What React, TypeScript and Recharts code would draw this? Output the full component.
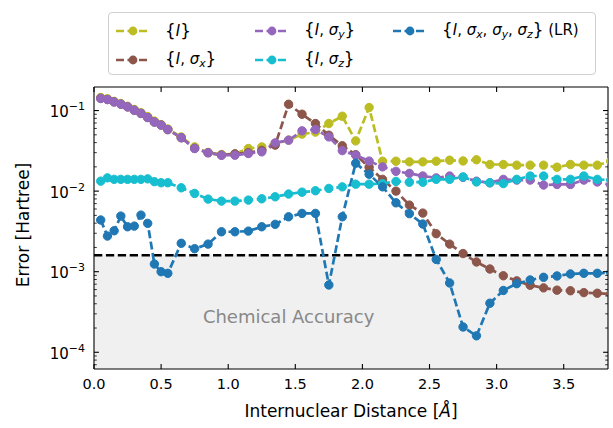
import React from 'react';
import {
  ComposedChart,
  Line,
  XAxis,
  YAxis,
  ReferenceArea,
  ReferenceLine,
  ReferenceDot,
} from 'recharts';

// ---------- data ----------
const distances = [
  0.05, 0.1, 0.15, 0.2, 0.25, 0.3, 0.35, 0.4, 0.45, 0.5, 0.55, 0.65, 0.75, 0.85, 0.95,
  1.05, 1.15, 1.25, 1.35, 1.45, 1.55, 1.65, 1.75, 1.85, 1.95, 2.05, 2.15, 2.25, 2.35,
  2.45, 2.55, 2.65, 2.75, 2.85, 2.95, 3.05, 3.15, 3.25, 3.35, 3.45, 3.55, 3.65, 3.75, 3.85,
];

const errI = [
  0.145, 0.14, 0.13, 0.122, 0.113, 0.103, 0.094, 0.084, 0.074, 0.067, 0.059, 0.047, 0.0354,
  0.0302, 0.0285, 0.029, 0.0338, 0.0354, 0.039, 0.043, 0.051, 0.054, 0.069, 0.085, 0.042,
  0.109, 0.0235, 0.0235, 0.0231, 0.0231, 0.0235, 0.0242, 0.0237, 0.0245, 0.0214, 0.0214,
  0.021, 0.021, 0.021, 0.0198, 0.0214, 0.021, 0.021, 0.0235,
];

const errIx = [
  0.142, 0.137, 0.128, 0.12, 0.111, 0.101, 0.092, 0.082, 0.072, 0.066, 0.058, 0.046, 0.034,
  0.03, 0.028, 0.029, 0.03, 0.032, 0.0372, 0.1197, 0.09, 0.069, 0.0494, 0.0366, 0.0283,
  0.0198, 0.014, 0.01, 0.00671, 0.00534, 0.00296, 0.0022, 0.00168, 0.00132, 0.00108,
  0.00089, 0.00077, 0.00068, 0.00063, 0.00059, 0.00058, 0.00055, 0.00054, 0.00053,
];

const errIy = [
  0.141, 0.137, 0.128, 0.12, 0.111, 0.101, 0.092, 0.082, 0.072, 0.066, 0.058, 0.046, 0.0338,
  0.0299, 0.0279, 0.0279, 0.0293, 0.0307, 0.0397, 0.0429, 0.056, 0.0582, 0.0471, 0.0318,
  0.0279, 0.0236, 0.02, 0.0176, 0.0166, 0.0154, 0.0146, 0.0154, 0.0148, 0.0133, 0.0127,
  0.014, 0.0137, 0.0137, 0.0119, 0.0121, 0.0121, 0.0137, 0.013, 0.0119,
];

const errIz = [
  0.0133, 0.0146, 0.014, 0.014, 0.014, 0.014, 0.014, 0.0142, 0.0131, 0.0127, 0.0127, 0.011,
  0.00936, 0.00796, 0.00752, 0.00752, 0.00774, 0.00803, 0.0085, 0.0092, 0.0097, 0.0101,
  0.0108, 0.0113, 0.0122, 0.0122, 0.0124, 0.0132, 0.0129, 0.0129, 0.014, 0.014, 0.015,
  0.013, 0.0127, 0.0124, 0.014, 0.0154, 0.0154, 0.014, 0.014, 0.0154, 0.014, 0.0137,
];

const errLR = [
  0.00438, 0.00277, 0.00322, 0.0049, 0.00361, 0.00368, 0.00504, 0.00398, 0.001245, 0.001,
  0.000955, 0.00225, 0.00193, 0.0022, 0.00313, 0.00313, 0.00319, 0.00361, 0.00387, 0.0048,
  0.00529, 0.00529, 0.000684, 0.0048, 0.0222, 0.0162, 0.0113, 0.00716, 0.00525, 0.0039,
  0.00142, 0.000724, 0.000206, 0.00016, 0.000406, 0.000585, 0.00071, 0.000789, 0.000852,
  0.000885, 0.000937, 0.000955, 0.000955, 0.000972,
];

const seriesKeys = ['I', 'Ix', 'Iy', 'Iz', 'LR'];
const seriesColors = ['#bcbd22', '#8c564b', '#9467bd', '#17becf', '#1f77b4'];

const xTicks = [0, 0.5, 1, 1.5, 2, 2.5, 3, 3.5];
const yMajorExponents = [-5, -4, -3, -2, -1];
const xDomain = [0, 3.83];
const yDomain = [6.2e-5, 0.196];
const chemicalAccuracy = 0.0016;
const chemicalLabel = 'Chemical Accuracy';
const chemicalLabelPos = { x: 1.45, y: 2.75e-4 };

const yTicks: number[] = [];
yMajorExponents.forEach((e) => {
  for (let m = 1; m <= 9; m++) {
    const v = parseFloat((m * Math.pow(10, e)).toPrecision(6));
    if (v >= yDomain[0] && v <= yDomain[1]) yTicks.push(v);
  }
});

const rows = distances.map((x, i) => ({
  x,
  I: errI[i],
  Ix: errIx[i],
  Iy: errIy[i],
  Iz: errIz[i],
  LR: errLR[i],
}));

const FONT = 'DejaVu Sans';

const isMajor = (v: number) => {
  const lg = Math.log10(v);
  return Math.abs(lg - Math.round(lg)) < 1e-6;
};

const LeftYTick = (props: any) => {
  const { x, y, payload } = props;
  const v = payload.value;
  const major = isMajor(v);
  const len = major ? 4.9 : 2.8;
  const exp = Math.round(Math.log10(v));
  return (
    <g>
      <line x1={x} x2={x + len} y1={y} y2={y} stroke="#000" strokeWidth={major ? 1.1 : 0.8} />
      {major && (
        <text x={x - 9} y={y + 6.5} textAnchor="end" fontSize={15} fontFamily={FONT} fill="#000">
          <tspan>10</tspan>
          <tspan dy={-7} fontSize={11}>{`\u2212${-exp}`}</tspan>
        </text>
      )}
    </g>
  );
};

const RightYTick = (props: any) => {
  const { x, y, payload } = props;
  const major = isMajor(payload.value);
  const len = major ? 4.9 : 2.8;
  return <line x1={x} x2={x - len} y1={y} y2={y} stroke="#000" strokeWidth={major ? 1.1 : 0.8} />;
};

const BottomXTick = (props: any) => {
  const { x, y, payload } = props;
  return (
    <g>
      <line x1={x} x2={x} y1={y} y2={y - 4.9} stroke="#000" strokeWidth={1.1} />
      <text x={x} y={y + 19.5} textAnchor="middle" fontSize={14.5} fontFamily={FONT} fill="#000">
        {Number(payload.value).toFixed(1)}
      </text>
    </g>
  );
};

const TopXTick = (props: any) => {
  const { x, y } = props;
  return <line x1={x} x2={x} y1={y} y2={y + 4.9} stroke="#000" strokeWidth={1.1} />;
};

const XLabel = (props: any) => {
  const vb = props.viewBox;
  return (
    <text
      x={vb.x + vb.width / 2}
      y={vb.y + 48}
      textAnchor="middle"
      fontSize={17}
      fontFamily={FONT}
      fill="#000"
    >
      Internuclear Distance [<tspan fontStyle="italic">Å</tspan>]
    </text>
  );
};

const YLabel = (props: any) => {
  const vb = props.viewBox;
  const cx = vb.x + 29;
  const cy = vb.y + vb.height / 2 - 3;
  return (
    <text
      x={cx}
      y={cy}
      transform={`rotate(-90 ${cx} ${cy})`}
      textAnchor="middle"
      fontSize={17}
      fontFamily={FONT}
      fill="#000"
    >
      Error [Hartree]
    </text>
  );
};

const Sub = ({ c }: { c: string }) => (
  <span style={{ fontSize: '0.72em', fontStyle: 'italic', position: 'relative', top: '0.3em' }}>{c}</span>
);
const Sig = ({ c }: { c: string }) => (
  <>
    <i>σ</i>
    <Sub c={c} />
  </>
);

const Br = ({ c }: { c: string }) => (
  <span style={{ fontSize: '1.12em', position: 'relative', top: '0.03em' }}>{c}</span>
);

const legendLabels = [
  <span><Br c="{" /><i>I</i><Br c="}" /></span>,
  <span><Br c="{" /><i>I</i>, <Sig c="x" /><Br c="}" /></span>,
  <span><Br c="{" /><i>I</i>, <Sig c="y" /><Br c="}" /></span>,
  <span><Br c="{" /><i>I</i>, <Sig c="z" /><Br c="}" /></span>,
  <span>
    <Br c="{" /><i>I</i>, <Sig c="x" />, <Sig c="y" />, <Sig c="z" /><Br c="}" /> (LR)
  </span>,
];

const legendCols = [8, 147, 285];
const legendRows = [17.5, 46.5];

const LegendBox = () => (
  <div
    style={{
      position: 'absolute',
      left: 108,
      top: 12,
      width: 488,
      height: 63,
      border: '1px solid #d0d0d0',
      borderRadius: 4,
      background: 'rgba(255,255,255,0.85)',
      boxSizing: 'border-box',
      fontFamily: FONT,
      fontSize: 15,
      color: '#000',
    }}
  >
    {seriesKeys.map((k, i) => {
      const col = Math.floor(i / 2);
      const row = i % 2;
      return (
        <div
          key={k}
          style={{
            position: 'absolute',
            left: legendCols[col] - 1,
            top: legendRows[row] - 11,
            height: 22,
            display: 'flex',
            alignItems: 'center',
            whiteSpace: 'nowrap',
          }}
        >
          <svg width={34} height={22} style={{ display: 'block' }}>
            <line x1={0} x2={34} y1={11} y2={11} stroke={seriesColors[i]} strokeWidth={2.5} strokeDasharray="8 3.5" />
            <circle cx={17} cy={11} r={4.4} fill={seriesColors[i]} />
          </svg>
          <span style={{ marginLeft: 15, lineHeight: '22px' }}>{legendLabels[i]}</span>
        </div>
      );
    })}
  </div>
);

export default function App() {
  return (
    <div style={{ position: 'absolute', left: 0, top: 0, width: 613, height: 428, background: '#fff' }}>
      <ComposedChart
        width={613}
        height={428}
        data={rows}
        margin={{ top: 86, right: 4, bottom: 0, left: 0 }}
      >
        <XAxis
          xAxisId="b"
          dataKey="x"
          type="number"
          domain={xDomain}
          allowDataOverflow
          ticks={xTicks}
          interval={0}
          tickSize={0}
          tickMargin={0}
          tick={<BottomXTick />}
          axisLine={{ stroke: '#000', strokeWidth: 1.1 }}
          height={59}
          label={<XLabel />}
        />
        <XAxis
          xAxisId="t"
          dataKey="x"
          orientation="top"
          type="number"
          domain={xDomain}
          allowDataOverflow
          ticks={xTicks}
          interval={0}
          tickSize={0}
          tickMargin={0}
          tick={<TopXTick />}
          axisLine={{ stroke: '#000', strokeWidth: 1.1 }}
          height={1}
        />
        <YAxis
          yAxisId="l"
          type="number"
          scale="log"
          domain={yDomain}
          allowDataOverflow
          ticks={yTicks}
          interval={0}
          tickSize={0}
          tickMargin={0}
          tick={<LeftYTick />}
          axisLine={{ stroke: '#000', strokeWidth: 1.1 }}
          width={94}
          label={<YLabel />}
        />
        <YAxis
          yAxisId="r"
          orientation="right"
          type="number"
          scale="log"
          domain={yDomain}
          allowDataOverflow
          ticks={yTicks}
          interval={0}
          tickSize={0}
          tickMargin={0}
          tick={<RightYTick />}
          axisLine={{ stroke: '#000', strokeWidth: 1.1 }}
          width={1}
        />
        <ReferenceArea
          xAxisId="b"
          yAxisId="l"
          x1={xDomain[0]}
          x2={xDomain[1]}
          y1={yDomain[0]}
          y2={chemicalAccuracy}
          fill="#f0f0f0"
          fillOpacity={1}
          stroke="none"
        />
        <ReferenceDot
          xAxisId="b"
          yAxisId="l"
          x={chemicalLabelPos.x}
          y={chemicalLabelPos.y}
          r={0}
          stroke="none"
          fill="none"
          label={{ value: chemicalLabel, position: 'center', fill: '#888', fontSize: 18, fontFamily: FONT }}
        />
        <ReferenceLine
          xAxisId="b"
          yAxisId="l"
          y={chemicalAccuracy}
          stroke="#000"
          strokeWidth={2.4}
          strokeDasharray="8.3 3.6"
        />
        {seriesKeys.map((k, i) => (
          <Line
            key={k}
            xAxisId="b"
            yAxisId="l"
            dataKey={k}
            type="linear"
            stroke={seriesColors[i]}
            strokeWidth={2.7}
            strokeDasharray="8 3.5"
            dot={{ r: 4.2, fill: seriesColors[i], stroke: seriesColors[i], strokeWidth: 1, strokeDasharray: '' }}
            activeDot={false}
            isAnimationActive={false}
          />
        ))}
      </ComposedChart>
      <LegendBox />
    </div>
  );
}
